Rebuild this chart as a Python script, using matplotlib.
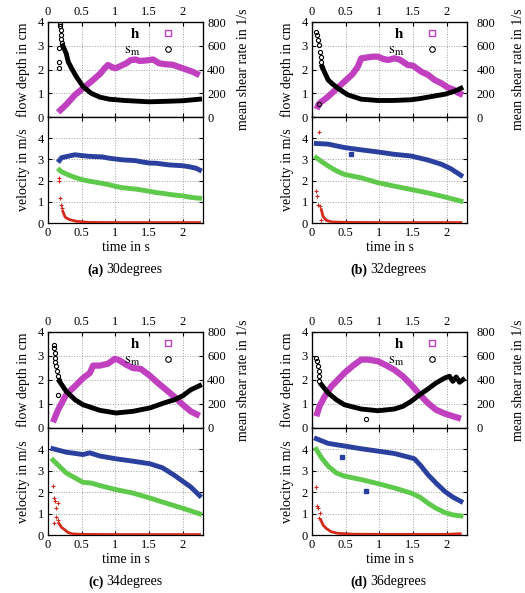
import numpy as np
import matplotlib
matplotlib.use("Agg")
import matplotlib.pyplot as plt
from matplotlib.lines import Line2D
from matplotlib.ticker import FormatStrFormatter, MultipleLocator

plt.rcParams['font.family'] = ['Liberation Serif', 'DejaVu Serif']
plt.rcParams['mathtext.fontset'] = 'stix'

# ---- (a) 30 degrees ----
h_t_a = [0.15, 0.27, 0.40, 0.52, 0.64, 0.77, 0.84, 0.89, 0.95, 1.00, 1.08, 1.16, 1.23, 1.30, 1.36, 1.45, 1.56, 1.65, 1.75, 1.85, 2.00, 2.15, 2.25]
h_a = [0.20, 0.52, 0.93, 1.21, 1.49, 1.81, 2.05, 2.19, 2.10, 2.05, 2.15, 2.26, 2.40, 2.42, 2.36, 2.38, 2.42, 2.26, 2.22, 2.20, 2.05, 1.90, 1.76]
sm_t_a = [0.22, 0.27, 0.30, 0.35, 0.42, 0.52, 0.64, 0.77, 0.91, 1.14, 1.50, 1.75, 2.00, 2.25]
sm_a = [600, 535, 465, 410, 340, 256, 200, 167, 150, 139, 128, 132, 137, 150]
sm_pts_t_a = [0.17, 0.17, 0.17, 0.18, 0.18, 0.19, 0.19, 0.20, 0.21]
sm_pts_a = [410, 466, 577, 786, 764, 730, 690, 660, 619]
u_t_a = [0.17, 0.2, 0.3, 0.4, 0.5, 0.6, 0.7, 0.8, 0.9, 1.0, 1.1, 1.2, 1.3, 1.4, 1.5, 1.6, 1.7, 1.8, 1.9, 2.0, 2.1, 2.2, 2.25]
us_a = [2.95, 3.08, 3.15, 3.22, 3.18, 3.15, 3.13, 3.12, 3.06, 3.02, 2.98, 2.96, 2.94, 2.88, 2.83, 2.82, 2.78, 2.74, 2.72, 2.70, 2.65, 2.58, 2.50]
um_a = [2.50, 2.42, 2.27, 2.15, 2.05, 1.98, 1.93, 1.87, 1.81, 1.73, 1.67, 1.63, 1.60, 1.55, 1.50, 1.44, 1.40, 1.35, 1.31, 1.28, 1.22, 1.18, 1.17]
ub_t_a = [0.22, 0.25, 0.27, 0.32, 0.42, 0.60, 1.00, 1.50, 2.00, 2.25]
ub_a = [0.55, 0.31, 0.24, 0.16, 0.08, 0.03, 0.02, 0.02, 0.02, 0.02]
ub_pts_t_a = [0.16, 0.17, 0.18, 0.19, 0.21]
ub_pts_a = [2.12, 1.96, 1.18, 0.86, 0.70]

# ---- (b) 32 degrees ----
h_t_b = [0.07, 0.10, 0.24, 0.35, 0.48, 0.60, 0.68, 0.73, 0.80, 0.90, 0.98, 1.05, 1.13, 1.22, 1.30, 1.42, 1.50, 1.62, 1.72, 1.82, 1.92, 2.01, 2.10, 2.16, 2.24]
h_b = [0.33, 0.55, 0.86, 1.15, 1.49, 1.80, 2.12, 2.47, 2.50, 2.54, 2.54, 2.45, 2.40, 2.47, 2.42, 2.19, 2.16, 1.91, 1.78, 1.56, 1.42, 1.25, 1.15, 1.03, 0.93]
sm_t_b = [0.15, 0.20, 0.24, 0.30, 0.385, 0.53, 0.73, 0.98, 1.20, 1.47, 1.60, 1.72, 1.85, 1.97, 2.08, 2.16, 2.21]
sm_b = [424, 360, 312, 280, 242, 187, 150, 139, 139, 145, 155, 167, 180, 192, 210, 228, 242]
sm_pts_t_b = [0.064, 0.079, 0.089, 0.099, 0.113, 0.128, 0.138, 0.148, 0.10]
sm_pts_b = [716, 688, 646, 604, 550, 508, 466, 424, 112]
us_t_b = [0.064, 0.24, 0.48, 0.73, 0.98, 1.22, 1.47, 1.72, 1.92, 2.06, 2.21]
us_b = [3.75, 3.72, 3.56, 3.45, 3.35, 3.24, 3.16, 2.97, 2.77, 2.56, 2.25]
us_pts_t_b = [0.58]
us_pts_b = [3.27]
um_t_b = [0.064, 0.15, 0.24, 0.35, 0.48, 0.73, 0.98, 1.22, 1.47, 1.72, 1.97, 2.21]
um_b = [3.08, 2.88, 2.69, 2.48, 2.29, 2.13, 1.90, 1.74, 1.58, 1.42, 1.23, 1.03]
ub_t_b = [0.138, 0.163, 0.21, 0.29, 0.50, 1.00, 1.50, 2.00, 2.21]
ub_b = [0.63, 0.32, 0.13, 0.05, 0.03, 0.02, 0.02, 0.02, 0.02]
ub_pts_t_b = [0.10, 0.064, 0.079, 0.089, 0.113, 0.138]
ub_pts_b = [4.27, 1.50, 1.26, 0.87, 0.79, 0.16]

# ---- (c) 34 degrees ----
h_t_c = [0.074, 0.15, 0.27, 0.40, 0.52, 0.62, 0.67, 0.77, 0.89, 0.99, 1.06, 1.16, 1.26, 1.38, 1.51, 1.63, 1.75, 1.88, 2.00, 2.12, 2.25]
h_c = [0.24, 0.76, 1.39, 1.74, 2.08, 2.29, 2.60, 2.60, 2.68, 2.88, 2.82, 2.64, 2.50, 2.46, 2.18, 1.88, 1.60, 1.29, 0.97, 0.69, 0.51]
sm_t_c = [0.17, 0.27, 0.40, 0.52, 0.77, 1.01, 1.26, 1.51, 1.75, 1.88, 2.00, 2.12, 2.25]
sm_c = [389, 306, 236, 194, 147, 125, 139, 167, 214, 236, 269, 319, 353]
sm_pts_t_c = [0.09, 0.09, 0.10, 0.10, 0.11, 0.12, 0.13, 0.15, 0.15, 0.16]
sm_pts_c = [689, 667, 625, 583, 547, 514, 472, 431, 278, 403]
us_t_c = [0.074, 0.27, 0.52, 0.62, 0.77, 1.01, 1.26, 1.51, 1.70, 1.88, 2.00, 2.12, 2.25]
us_c = [4.03, 3.87, 3.76, 3.84, 3.69, 3.56, 3.45, 3.33, 3.14, 2.78, 2.51, 2.24, 1.84]
us_pts_t_c = []
us_pts_c = []
um_t_c = [0.074, 0.27, 0.40, 0.52, 0.64, 0.77, 1.01, 1.26, 1.51, 1.75, 2.00, 2.25]
um_c = [3.50, 2.90, 2.67, 2.46, 2.43, 2.31, 2.12, 1.96, 1.73, 1.49, 1.25, 0.99]
ub_t_c = [0.16, 0.20, 0.25, 0.30, 0.37, 0.50, 1.00, 1.50, 2.00, 2.25]
ub_c = [0.55, 0.36, 0.24, 0.11, 0.05, 0.03, 0.02, 0.02, 0.02, 0.02]
ub_pts_t_c = [0.074, 0.089, 0.099, 0.148, 0.113, 0.123, 0.148, 0.084]
ub_pts_c = [2.31, 1.73, 1.57, 1.49, 1.25, 0.86, 0.71, 0.55]

# ---- (d) 36 degrees ----
h_t_d = [0.064, 0.11, 0.19, 0.29, 0.385, 0.48, 0.61, 0.73, 0.83, 0.98, 1.08, 1.22, 1.35, 1.47, 1.60, 1.72, 1.84, 1.97, 2.09, 2.21]
h_d = [0.49, 0.90, 1.32, 1.74, 2.01, 2.29, 2.60, 2.85, 2.85, 2.78, 2.64, 2.43, 2.15, 1.81, 1.39, 1.04, 0.76, 0.60, 0.49, 0.39]
sm_t_d = [0.14, 0.24, 0.36, 0.48, 0.61, 0.73, 0.98, 1.22, 1.35, 1.47, 1.60, 1.72, 1.84, 1.97, 2.04, 2.09, 2.14, 2.19, 2.24]
sm_d = [361, 292, 236, 194, 175, 158, 144, 158, 181, 222, 278, 325, 375, 417, 431, 389, 425, 381, 403]
sm_pts_t_d = [0.064, 0.079, 0.089, 0.099, 0.11, 0.11, 0.80]
sm_pts_d = [583, 556, 514, 472, 431, 394, 75]
us_t_d = [0.064, 0.24, 0.48, 0.73, 0.98, 1.22, 1.42, 1.52, 1.62, 1.72, 1.84, 1.97, 2.09, 2.21]
us_d = [4.50, 4.28, 4.16, 4.03, 3.92, 3.81, 3.65, 3.56, 3.22, 2.82, 2.43, 2.04, 1.77, 1.57]
us_pts_t_d = [0.44]
us_pts_d = [3.65]
um_t_d = [0.064, 0.14, 0.24, 0.36, 0.48, 0.73, 0.98, 1.22, 1.47, 1.60, 1.72, 1.84, 1.97, 2.09, 2.21]
um_d = [4.00, 3.61, 3.22, 2.90, 2.75, 2.59, 2.40, 2.20, 1.96, 1.77, 1.49, 1.25, 1.05, 0.94, 0.89]
um_pts_t_d = [0.80]
um_pts_d = [2.04]
ub_t_d = [0.13, 0.163, 0.21, 0.28, 0.38, 0.60, 1.00, 1.50, 2.00, 2.20]
ub_d = [0.71, 0.47, 0.31, 0.16, 0.08, 0.04, 0.03, 0.03, 0.03, 0.06]
ub_pts_t_d = [0.064, 0.079, 0.089, 0.113, 0.099]
ub_pts_d = [2.24, 1.36, 1.25, 1.02, 0.78]

letters = ['(a)', '(b)', '(c)', '(d)']
captions = ['30degrees', '32degrees', '34degrees', '36degrees']

MAGENTA = '#c040c0'
BLUE = '#2a3f9e'
GREEN = '#5ec94a'
RED = '#d42a1c'

W, H = 525, 593
# pixel boxes: left, right, top, mid, bottom
boxes = [(48, 203, 22, 117, 223), (312, 467, 22, 117, 223),
         (48, 203, 332, 428, 535), (312, 467, 332, 428, 535)]
# per column: right tick label pad, right ylabel x (axes coords)
right_pad = [3, 7]
right_lab_x = [1.22, 1.29]

panels = [
    (h_t_a, h_a, sm_t_a, sm_a, sm_pts_t_a, sm_pts_a, u_t_a, us_a, [], [], u_t_a, um_a, [], [], ub_t_a, ub_a, ub_pts_t_a, ub_pts_a),
    (h_t_b, h_b, sm_t_b, sm_b, sm_pts_t_b, sm_pts_b, us_t_b, us_b, us_pts_t_b, us_pts_b, um_t_b, um_b, [], [], ub_t_b, ub_b, ub_pts_t_b, ub_pts_b),
    (h_t_c, h_c, sm_t_c, sm_c, sm_pts_t_c, sm_pts_c, us_t_c, us_c, us_pts_t_c, us_pts_c, um_t_c, um_c, [], [], ub_t_c, ub_c, ub_pts_t_c, ub_pts_c),
    (h_t_d, h_d, sm_t_d, sm_d, sm_pts_t_d, sm_pts_d, us_t_d, us_d, us_pts_t_d, us_pts_d, um_t_d, um_d, um_pts_t_d, um_pts_d, ub_t_d, ub_d, ub_pts_t_d, ub_pts_d),
]

fig = plt.figure(figsize=(W / 100, H / 100), dpi=100)

grid_kw = dict(color='#a0a0a0', linestyle=':', linewidth=0.7)
tick_kw = dict(direction='in', length=3, width=0.8, labelsize=9)


def style_axes(ax):
    for s in ax.spines.values():
        s.set_linewidth(0.9)
    ax.set_xlim(0, 2.3)
    ax.xaxis.set_major_locator(MultipleLocator(0.5))
    ax.xaxis.set_major_formatter(FormatStrFormatter('%g'))
    ax.grid(True, **grid_kw)
    ax.set_axisbelow(True)


for i, p in enumerate(panels):
    (ht, hv, smt, smv, smpt, smpv, ust, usv, uspt, uspv,
     umt, umv, umpt, umpv, ubt, ubv, ubpt, ubpv) = p
    left, right, top, mid, bottom = boxes[i]
    col = i % 2
    wf = (right - left) / W

    ax_up = fig.add_axes([left / W, 1 - mid / H, wf, (mid - top) / H])
    ax_lo = fig.add_axes([left / W, 1 - bottom / H, wf, (bottom - mid) / H])

    # upper: flow depth + shear rate
    style_axes(ax_up)
    ax_up.set_ylim(0, 4)
    ax_up.set_yticks([0, 1, 2, 3, 4])
    ax_up.tick_params(axis='x', top=True, labeltop=True, bottom=True, labelbottom=False, pad=3, **tick_kw)
    ax_up.tick_params(axis='y', left=True, right=False, pad=3, **tick_kw)
    ax_up.plot(ht, hv, color=MAGENTA, lw=4.5, solid_capstyle='butt', zorder=3)
    ax_up.set_ylabel('flow depth in cm', fontsize=10)
    ax_up.yaxis.set_label_coords(-0.115, 0.5)

    ax2 = ax_up.twinx()
    ax2.set_ylim(0, 800)
    ax2.set_yticks([0, 200, 400, 600, 800])
    ax2.tick_params(axis='y', right=True, pad=right_pad[col], **tick_kw)
    ax2.plot(smt, smv, color='black', lw=3.5, zorder=4)
    ax2.plot(smpt, smpv, ls='none', marker='o', ms=3, mfc='none', mec='black', mew=0.8)
    ax2.set_ylabel('mean shear rate in 1/s', fontsize=10)
    ax2.yaxis.set_label_coords(right_lab_x[col], 0.5)

    handles = [Line2D([], [], ls='none', marker='s', ms=4, mfc='none', mec=MAGENTA, mew=1),
               Line2D([], [], ls='none', marker='o', ms=4, mfc='none', mec='black', mew=0.8)]
    ax2.legend(handles, [r'$\mathbf{h}$', r'$\mathrm{s_m}$'], loc='upper right',
               bbox_to_anchor=(0.87, 1.04), frameon=False, markerfirst=False,
               handlelength=0.8, handletextpad=1.4, labelspacing=0.15, fontsize=11,
               borderaxespad=0.2)

    # lower: velocities
    style_axes(ax_lo)
    ax_lo.set_ylim(0, 5)
    ax_lo.set_yticks([0, 1, 2, 3, 4])
    ax_lo.tick_params(axis='both', top=True, right=True, pad=3, **tick_kw)
    ax_lo.plot(ust, usv, color=BLUE, lw=3.5, zorder=3)
    ax_lo.plot(uspt, uspv, ls='none', marker='s', ms=2.5, color=BLUE)
    ax_lo.plot(umt, umv, color=GREEN, lw=3.5, zorder=3)
    ax_lo.plot(umpt, umpv, ls='none', marker='s', ms=2.5, color=BLUE)
    ax_lo.plot(ubt, ubv, color=RED, lw=2, zorder=3)
    ax_lo.plot(ubpt, ubpv, ls='none', marker='+', ms=3, mew=0.8, color=RED)
    ax_lo.set_ylabel('velocity in m/s', fontsize=10)
    ax_lo.yaxis.set_label_coords(-0.115, 0.5)
    ax_lo.set_xlabel('time in s', fontsize=10, labelpad=1)

    cx = (left + right) / 2 / W
    cy = 1 - (bottom + 47) / H
    fig.text(cx - 22 / W, cy, letters[i], ha='right', va='center', fontsize=10, fontweight='bold')
    fig.text(cx - 19 / W, cy, captions[i], ha='left', va='center', fontsize=10)

fig.savefig('out.png', dpi=100)
